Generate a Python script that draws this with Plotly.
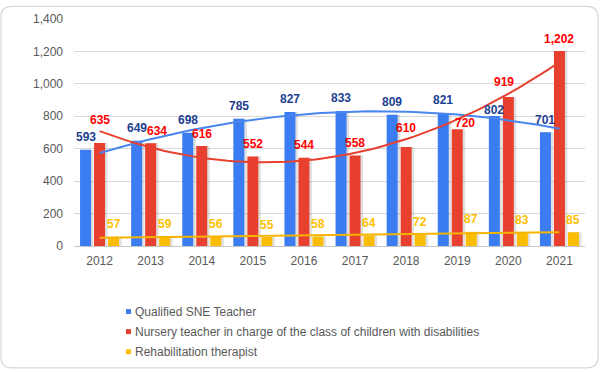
import numpy as np
import plotly.graph_objects as go

# ---------------- data ----------------
years = ["2012", "2013", "2014", "2015", "2016", "2017", "2018", "2019", "2020", "2021"]
sne_teacher = [593, 649, 698, 785, 827, 833, 809, 821, 802, 701]
nursery_teacher = [635, 634, 616, 552, 544, 558, 610, 720, 919, 1202]
rehab_therapist = [57, 59, 56, 55, 58, 64, 72, 87, 83, 85]
series_names = [
    "Qualified SNE Teacher",
    "Nursery teacher in charge of the class of children with disabilities",
    "Rehabilitation therapist",
]
y_ticks = [0, 200, 400, 600, 800, 1000, 1200, 1400]

# ---------------- style / layout ----------------
W, H = 600, 372
PL, PR, PT, PB = 74, 585, 14, 246          # plot area in pixels
n = len(years)
cat_px = (PR - PL) / n
slot_px, bar_px = 14, 11
FONT = "Liberation Sans, Arial, sans-serif"

bar_colors = ["#3b7cf0", "#e8402f", "#fbbc04"]
trend_colors = ["#4a86f0", "#e8402f", "#f6b400"]
label_colors = ["#1d3f92", "#ff0000", "#ffc000"]
trend_degree = [2, 2, 1]
slot_index = [-1, 0, 1]
# label nudges (dx, dy in px) copied from the reference's collision-avoided labels
nudges = {(1, 0): (0, 11), (1, 1): (6, 0), (1, 6): (0, 7), (1, 7): (8, -6),
          (1, 8): (-4, 2), (0, 8): (0, -7)}


def px2paper(x, y):
    return (x - PL) / (PR - PL), (PB - y) / (PB - PT)


series_values = [sne_teacher, nursery_teacher, rehab_therapist]
idx = np.arange(n)
fig = go.Figure()

# bars (with soft shadow)
for s, vals in enumerate(series_values):
    off = (slot_index[s] * slot_px - bar_px / 2) / cat_px
    fig.add_bar(x=idx, y=vals, width=bar_px / cat_px, offset=off + 2.5 / cat_px,
                marker=dict(color="rgba(0,0,0,0.12)", line=dict(width=0)),
                hoverinfo="skip", showlegend=False)
    fig.add_bar(x=idx, y=vals, width=bar_px / cat_px, offset=off,
                marker=dict(color=bar_colors[s], line=dict(width=0)),
                name=series_names[s], showlegend=False)

# trend lines (least-squares fits of each series)
xs = np.linspace(0, n - 1, 80)
for s, vals in enumerate(series_values):
    coef = np.polyfit(idx, vals, trend_degree[s])
    fig.add_scatter(x=xs, y=np.polyval(coef, xs), mode="lines",
                    line=dict(color=trend_colors[s], width=2),
                    hoverinfo="skip", showlegend=False)

annotations = []
for s, vals in enumerate(series_values):
    for i, v in enumerate(vals):
        dx, dy = nudges.get((s, i), (0, 0))
        annotations.append(dict(
            x=i + slot_index[s] * slot_px / cat_px, y=v, xref="x", yref="y",
            text=f"<b>{v:,}</b>", showarrow=False, yanchor="middle",
            xshift=dx, yshift=12.5 + dy,
            font=dict(family=FONT, size=12, color=label_colors[s])))

# legend (manual)
shapes = []
legend_rows = [313, 333.5, 354]
for s, name in enumerate(series_names):
    yc = legend_rows[s]
    x0, y0 = px2paper(126, yc + 2.5)
    x1, y1 = px2paper(131, yc - 2.5)
    shapes.append(dict(type="rect", xref="paper", yref="paper", x0=x0, x1=x1, y0=y0, y1=y1,
                       fillcolor=bar_colors[s], line=dict(width=0)))
    tx, ty = px2paper(133, yc)
    annotations.append(dict(x=tx, y=ty, xref="paper", yref="paper", text=name,
                            showarrow=False, xanchor="left", yanchor="middle",
                            font=dict(family=FONT, size=12, color="#595959")))

# rounded outer frame
r = 11
bx0, by0, bx1, by1 = 1, 1, 598, 370.5
pts = [("M", bx0 + r, by0), ("L", bx1 - r, by0), ("Q", bx1, by0, bx1, by0 + r),
       ("L", bx1, by1 - r), ("Q", bx1, by1, bx1 - r, by1), ("L", bx0 + r, by1),
       ("Q", bx0, by1, bx0, by1 - r), ("L", bx0, by0 + r), ("Q", bx0, by0, bx0 + r, by0)]
path = ""
for p in pts:
    cmd, coords = p[0], p[1:]
    conv = []
    for k in range(0, len(coords), 2):
        a, b = px2paper(coords[k], coords[k + 1])
        conv.append(f"{a:.5f},{b:.5f}")
    path += cmd + " ".join(conv) + " "
path += "Z"
shapes.append(dict(type="path", xref="paper", yref="paper", path=path,
                   line=dict(color="#d9d9d9", width=1.3), fillcolor="rgba(0,0,0,0)", layer="below"))

fig.update_layout(
    width=W, height=H,
    margin=dict(l=PL, r=W - PR, t=PT, b=H - PB),
    paper_bgcolor="white", plot_bgcolor="white",
    barmode="overlay",
    showlegend=False,
    font=dict(family=FONT, size=12, color="#595959"),
    xaxis=dict(range=[-0.5, n - 0.5], tickvals=list(idx), ticktext=years,
               showgrid=False, zeroline=False, showline=True, linecolor="#c6c6c6",
               linewidth=1, ticks="", ticklabelstandoff=4,
               tickfont=dict(family=FONT, size=12, color="#595959")),
    yaxis=dict(range=[0, 1400], tickvals=y_ticks, tickformat=",", showgrid=True,
               gridcolor="#d9d9d9", gridwidth=1, zeroline=False, ticks="",
               ticklabelstandoff=10,
               tickfont=dict(family=FONT, size=12, color="#595959")),
    annotations=annotations,
    shapes=shapes,
)

fig.write_html("out.html", config={"displayModeBar": False},
               post_script="document.body.style.margin='0';document.body.style.overflow='hidden';")
